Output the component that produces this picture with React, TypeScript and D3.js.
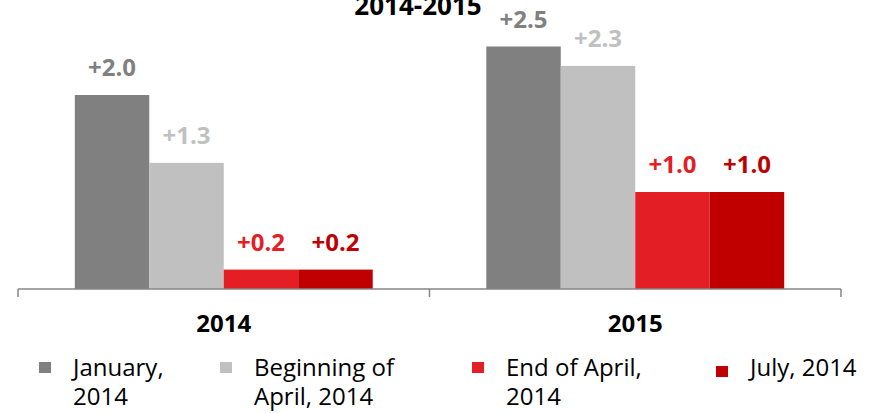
import * as d3 from "d3";

const years = ["2014", "2015"];
const seriesNames = ["jan", "aprBegin", "aprEnd", "jul"];
const legendLines = [
  ["January,", "2014"],
  ["Beginning of", "April, 2014"],
  ["End of April,", "2014"],
  ["July, 2014"],
];
const colors = ["#808080", "#c0c0c0", "#e31e24", "#c00000"];
// forecast values per series, [2014, 2015]
const jan = [2.0, 2.5];
const aprBegin = [1.3, 2.3];
const aprEnd = [0.2, 1.0];
const jul = [0.2, 1.0];
const series = [jan, aprBegin, aprEnd, jul];

const W = 874;
const H = 414;
const font = "'Open Sans', Lato, sans-serif";

export default function App() {
  const baseY = 289;
  const x0 = d3.scaleBand().domain(years).range([18, 841]).padding(0);
  const bw = x0.bandwidth();
  const x1 = d3
    .scaleBand()
    .domain(seriesNames)
    .range([bw * 0.138, bw * 0.862])
    .padding(0);
  const y = d3.scaleLinear().domain([0, 3]).range([baseY, baseY - 291]);

  const legendX = [39, 220, 472, 716];

  return (
    <svg
      width={W}
      height={H}
      style={{ position: "absolute", left: 0, top: 0, fontFamily: font }}
    >
      <text
        x={418}
        y={15}
        textAnchor="middle"
        fontWeight="bold"
        fontSize={26}
        fill="#000"
      >
        2014-2015
      </text>

      {years.map((yr, yi) => (
        <g key={yr} transform={`translate(${x0(yr)},0)`}>
          {series.map((vals, si) => {
            const v = vals[yi];
            const bx = x1(seriesNames[si])!;
            return (
              <g key={si}>
                <rect
                  x={bx}
                  y={y(v)}
                  width={x1.bandwidth()}
                  height={baseY - y(v)}
                  fill={colors[si]}
                />
                <text
                  x={bx + x1.bandwidth() / 2}
                  y={y(v) - 19}
                  textAnchor="middle"
                  fontWeight="bold"
                  fontSize={24}
                  fill={colors[si]}
                >
                  {"+" + d3.format(".1f")(v)}
                </text>
              </g>
            );
          })}
          <text
            x={bw / 2}
            y={332}
            textAnchor="middle"
            fontWeight="bold"
            fontSize={24}
            fill="#000"
          >
            {yr}
          </text>
        </g>
      ))}

      {/* category axis with ticks at band edges */}
      <path
        d={`M${x0.range()[0]},${baseY}H${x0.range()[1]}`}
        stroke="#868686"
        strokeWidth={1.5}
        fill="none"
      />
      {[...years.map((yr) => x0(yr)!), x0.range()[1]].map((tx, i) => (
        <line
          key={i}
          x1={tx}
          x2={tx}
          y1={baseY}
          y2={baseY + 8}
          stroke="#868686"
          strokeWidth={1.5}
        />
      ))}

      {legendLines.map((lines, i) => (
        <g key={i} transform={`translate(${legendX[i]},0)`}>
          <rect
            x={0}
            y={i === 3 ? 366 : 362}
            width={12}
            height={11}
            fill={colors[i]}
          />
          <text x={34} y={376} fontSize={24} fill="#000">
            {lines.map((ln, li) => (
              <tspan key={li} x={34} dy={li === 0 ? 0 : 29}>
                {ln}
              </tspan>
            ))}
          </text>
        </g>
      ))}
    </svg>
  );
}
